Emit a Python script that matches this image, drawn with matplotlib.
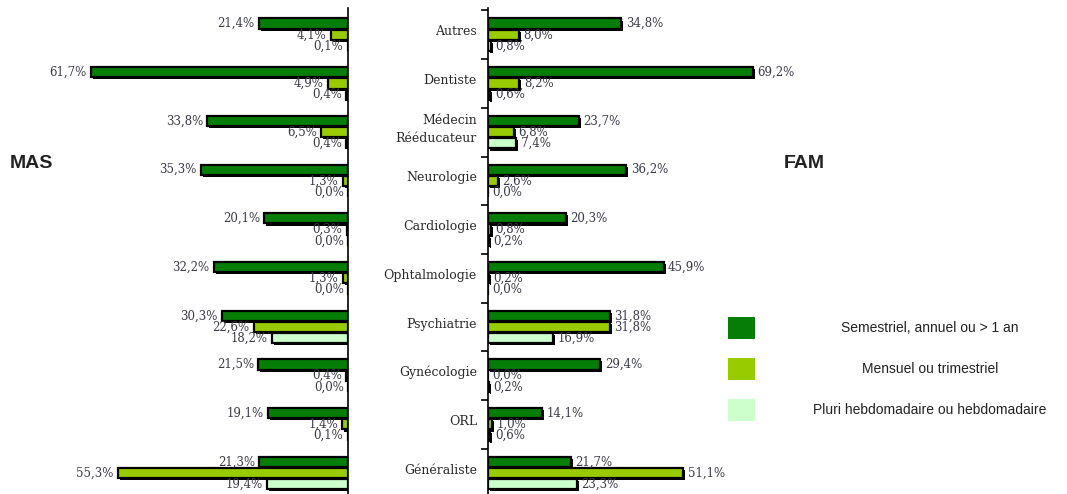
import numpy as np
import matplotlib
matplotlib.use("Agg")
from matplotlib import pyplot as plt
from matplotlib.patches import Rectangle
import matplotlib.patheffects as pe

categories = ["Autres", "Dentiste", "Médecin\nRééducateur", "Neurologie", "Cardiologie",
              "Ophtalmologie", "Psychiatrie", "Gynécologie", "ORL", "Généraliste"]
series_names = ["Semestriel, annuel ou > 1 an", "Mensuel ou trimestriel",
                "Pluri hebdomadaire ou hebdomadaire"]

mas_annuel = [21.4, 61.7, 33.8, 35.3, 20.1, 32.2, 30.3, 21.5, 19.1, 21.3]
mas_mensuel = [4.1, 4.9, 6.5, 1.3, 0.3, 1.3, 22.6, 0.4, 1.4, 55.3]
mas_hebdo = [0.1, 0.4, 0.4, 0.0, 0.0, 0.0, 18.2, 0.0, 0.1, 19.4]

fam_annuel = [34.8, 69.2, 23.7, 36.2, 20.3, 45.9, 31.8, 29.4, 14.1, 21.7]
fam_mensuel = [8.0, 8.2, 6.8, 2.6, 0.8, 0.2, 31.8, 0.0, 1.0, 51.1]
fam_hebdo = [0.8, 0.6, 7.4, 0.0, 0.2, 0.0, 16.9, 0.2, 0.6, 23.3]

colors = ["#067d06", "#99cc00", "#ccffcc"]
W, H = 1067, 494
fig = plt.figure(figsize=(W / 100, H / 100), dpi=100)

ax_l = fig.add_axes([0, 0, 348 / W, 1 - 8 / H])
ax_r = fig.add_axes([488 / W, 0, 325 / W, 1 - 8 / H])

y = np.arange(len(categories))
offsets = [-0.23, 0.0, 0.23]
bar_h = 0.21
label_font = dict(family="DejaVu Serif", fontsize=8.5, color="#3a3a48")
shadow = [pe.SimplePatchShadow(offset=(1.5, -1.5), shadow_rgbFace="black", alpha=1.0), pe.Normal()]


def fmt(v):
    return ("%.1f%%" % v).replace(".", ",")


def draw_panel(ax, values, left_side):
    for k, vals in enumerate(values):
        bars = ax.barh(y + offsets[k], vals, height=bar_h, color=colors[k],
                       edgecolor="black", linewidth=1.6)
        for b, v in zip(bars, vals):
            if v > 0:
                b.set_path_effects(shadow)
        for yi, v in zip(y, vals):
            if left_side:
                ax.text(v + 1.0, yi + offsets[k], fmt(v), ha="right", va="center", **label_font)
            else:
                ax.text(v + 1.2, yi + offsets[k], fmt(v), ha="left", va="center", **label_font)
    ax.set_ylim(9.43, -0.55)
    ax.set_yticks([])
    ax.set_xticks([])
    for s in ["top", "bottom", "left", "right"]:
        ax.spines[s].set_visible(False)
    ax.patch.set_alpha(0)


draw_panel(ax_l, [mas_annuel, mas_mensuel, mas_hebdo], True)
ax_l.set_xlim(83.5, 0)
ax_l.spines["right"].set_visible(True)
ax_l.spines["right"].set_linewidth(1.2)

draw_panel(ax_r, [fam_annuel, fam_mensuel, fam_hebdo], False)
ax_r.set_xlim(0, 85)
ax_r.spines["left"].set_visible(True)
ax_r.spines["left"].set_linewidth(1.2)
ax_r.set_yticks(np.arange(-0.5, 9.5, 1.0))
ax_r.set_yticklabels([])
ax_r.tick_params(axis="y", length=5, width=1.2, direction="out")
for yi, name in zip(y, categories):
    ax_r.text(-2.9, yi - 0.06, name, ha="right", va="center", family="DejaVu Serif",
              fontsize=9, color="#2a2a2a", linespacing=1.45)

fig.text(10 / W, 1 - 163 / H, "MAS", ha="left", va="center", family="Liberation Sans",
         fontsize=14, fontweight="bold", color="#222222")
fig.text(784 / W, 1 - 163 / H, "FAM", ha="left", va="center", family="Liberation Sans",
         fontsize=14, fontweight="bold", color="#222222")

# legend boxes
leg_y = [328, 369, 410]
for k, name in enumerate(series_names):
    fig.add_artist(Rectangle((728 / W, 1 - (leg_y[k] + 11) / H), 27 / W, 22 / H,
                             transform=fig.transFigure, facecolor=colors[k], edgecolor="none"))
    fig.text(930 / W, 1 - leg_y[k] / H, name, ha="center", va="center",
             family="Liberation Sans", fontsize=10, color="#222222")

fig.savefig("out.png", dpi=100)
